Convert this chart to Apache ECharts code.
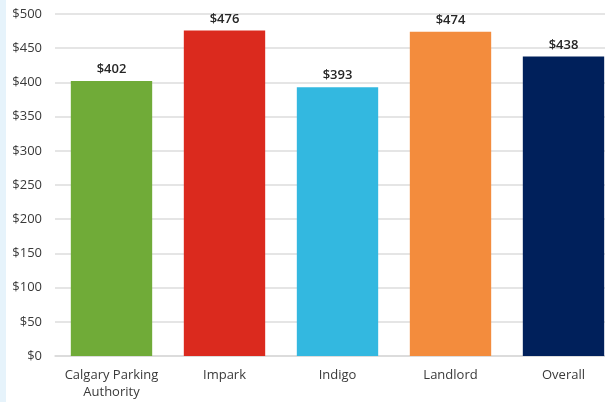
<!DOCTYPE html>
<html><head><meta charset="utf-8">
<script src="https://cdn.jsdelivr.net/npm/echarts@6/dist/echarts.min.js"></script>
<style>html,body{margin:0;padding:0;background:#fff}
#strip{position:absolute;left:0;top:0;width:6px;height:402px;background:#e6f3fb}
#c{position:absolute;left:0;top:0;width:605px;height:402px}</style>
</head><body><div id="strip"></div><div id="c"></div>
<script>
const categories = ['Calgary Parking\nAuthority', 'Impark', 'Indigo', 'Landlord', 'Overall'];
const values = [402, 476, 393, 474, 438];
const colors = ['#70ab38', '#db2a1e', '#33b8e0', '#f38c3d', '#00205b'];
const yTicks = [0, 50, 100, 150, 200, 250, 300, 350, 400, 450, 500];

const chart = echarts.init(document.getElementById('c'));
chart.setOption({
  animation: false,
  grid: {left: 55, top: 14, width: 565, height: 342, containLabel: false, outerBoundsMode: 'none'},
  xAxis: {
    type: 'category', data: categories,
    axisLine: {lineStyle: {color: '#d9d9d9', width: 1.5}},
    axisTick: {show: false},
    axisLabel: {color: '#3a3a3a', fontSize: 13, fontFamily: 'Open Sans', margin: 11, lineHeight: 17, interval: 0}
  },
  yAxis: {
    type: 'value', min: yTicks[0], max: yTicks[yTicks.length - 1], interval: 50,
    axisLine: {show: false}, axisTick: {show: false},
    splitLine: {lineStyle: {color: '#dcdcdc', width: 1.5}},
    axisLabel: {color: '#3a3a3a', fontSize: 13, fontFamily: 'Open Sans', margin: 13, formatter: v => '$' + v}
  },
  series: [{
    type: 'bar', barCategoryGap: '28%',
    data: values.map((v, i) => ({value: v, itemStyle: {color: colors[i]}})),
    label: {show: true, position: 'top', distance: 5, color: '#262626', fontSize: 13, fontWeight: 600, fontFamily: 'Open Sans', formatter: p => '$' + p.value}
  }]
});
</script></body></html>
